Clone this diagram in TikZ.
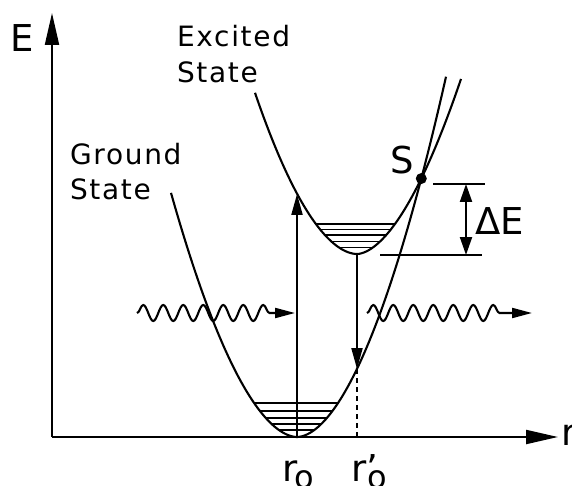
\documentclass[tikz,border=0pt]{standalone}
\usepackage{fontspec}
\setmainfont{DejaVu Sans}
\newfontfamily\lblfont[LetterSpace=6]{DejaVu Sans}
\usetikzlibrary{arrows.meta,decorations.pathmorphing,intersections}
\begin{document}
\begin{tikzpicture}[x=1pt,y=-1pt, line width=2.1pt,
  lbl/.style={inner sep=0pt, anchor=base west, font=\lblfont\fontsize{28}{32}\selectfont},
  big/.style={inner sep=0pt, anchor=base west, font=\fontsize{37}{40}\selectfont},
  axisarrow/.style={-{Triangle[length=32pt,width=14pt]}},
  trans/.style={-{Triangle[length=21pt,width=11pt]}},
  wave/.style={decorate, decoration={snake, segment length=20pt, amplitude=8pt, post length=24pt}, -{Triangle[length=20pt,width=10pt]}},
  level/.style={line width=1.6pt},
  dtip/.style={{Triangle[length=18pt,width=12pt]}-{Triangle[length=18pt,width=12pt]}}
]
\useasboundingbox (0,0) rectangle (572,486);

% axes
\coordinate (O) at (52,437);
\coordinate (Etop) at (52,13);
\coordinate (Rend) at (558,437);
\draw[axisarrow] (O) -- (Etop);
\draw[axisarrow] (O) -- (Rend);

% ground state curve
\draw[name path=ground] plot[domain=171:297,samples=90] (\x,{437-0.035*(abs(297-\x)+0.001)^1.83})
  -- plot[domain=297:446,samples=90] (\x,{437-0.038*(abs(\x-297)+0.001)^1.83});
% excited state curve
\draw[name path=excited] plot[domain=255:357,samples=90] (\x,{254-0.031*(abs(357-\x)+0.001)^1.85})
  -- plot[domain=357:461,samples=90] (\x,{254-0.0517*(abs(\x-357)+0.001)^1.75});

% vibrational levels
\begin{scope}
  \clip plot[domain=171:297,samples=60] (\x,{437-0.035*(abs(297-\x)+0.001)^1.83})
    -- plot[domain=297:446,samples=60] (\x,{437-0.038*(abs(\x-297)+0.001)^1.83}) -- cycle;
  \foreach \yy in {403,411,418,424,430} \draw[level] (240,\yy) -- (360,\yy);
\end{scope}
\begin{scope}
  \clip plot[domain=255:357,samples=60] (\x,{254-0.031*(abs(357-\x)+0.001)^1.85})
    -- plot[domain=357:461,samples=60] (\x,{254-0.0517*(abs(\x-357)+0.001)^1.75}) -- cycle;
  \foreach \yy in {224,229.5,235,241.5,247.5} \draw[level] (300,\yy) -- (420,\yy);
\end{scope}

% crossing point S
\path[name intersections={of=ground and excited, by=S}];
\fill (S) circle (5.5pt);

% transitions
\coordinate (g0) at (297,437);
\coordinate (eup) at (297,194);
\draw[trans] (g0) -- (eup);
\coordinate (e0) at (357,254);
\coordinate (gdown) at (357,369);
\draw[trans] (e0) -- (gdown);
\coordinate (rp) at (357,437);
\draw[dash pattern=on 5pt off 4pt, line width=1.8pt] (gdown) -- (rp);

% photons
\coordinate (w1s) at (137,313);
\coordinate (w1e) at (295,313);
\draw[wave] (w1s) -- (w1e);
\coordinate (w2s) at (367,313);
\coordinate (w2e) at (532,313);
\draw[wave] (w2s) -- (w2e);

% Delta E
\coordinate (t1) at (433,184);
\coordinate (t2) at (485,184);
\coordinate (b1) at (380,255);
\coordinate (b2) at (482,255);
\draw (t1) -- (t2);
\draw (b1) -- (b2);
\coordinate (dEt) at (466,184);
\coordinate (dEb) at (466,255);
\draw[dtip] (dEt) -- (dEb);

% labels
\node[big] (Elbl) at (9,52) {E};
\node[lbl] (exc) at (176,47) {Excited};
\node[lbl] (exs) at (176,83) {State};
\node[lbl] (gr) at (69,165) {Ground};
\node[lbl] (grs) at (69,200) {State};
\node[big] (Slbl) at (389,174) {S};
\node[big] (dE) at (474,234) {ΔE};
\node[big] (rlbl) at (560,445) {r};
\node[big] (r0) at (281,481) {r\kern-3pt\raisebox{-7pt}{\fontsize{32}{32}\selectfont o}};
\node[big] (r1) at (350,481) {r’\kern-11pt\raisebox{-7pt}{\fontsize{32}{32}\selectfont o}};
\end{tikzpicture}
\end{document}
